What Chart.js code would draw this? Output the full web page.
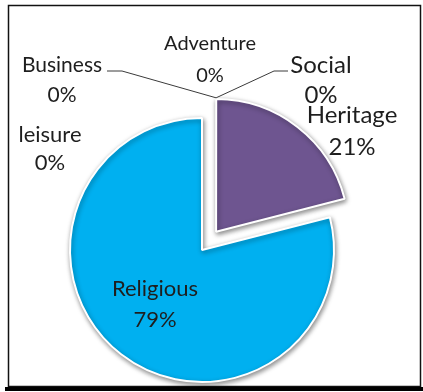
<!DOCTYPE html>
<html lang="en">
<head>
    <meta charset="UTF-8">
    <title>Tourism purpose</title>
    <script src="https://cdn.jsdelivr.net/npm/chart.js"></script>
    <style>
        body {
            margin: 0;
            background-color: #ffffff;
        }
        #wrap {
            position: relative;
            width: 423px;
            height: 392px;
        }
    </style>
</head>
<body>
    <div id="wrap"><canvas id="chart" width="423" height="392"></canvas></div>

    <script>
        const categories = ['Heritage', 'Religious', 'leisure', 'Business', 'Adventure', 'Social'];
        const shares = [21, 79, 0, 0, 0, 0];
        const sliceColors = ['#6e5590', '#00b0f0', '#c0504d', '#9bbb59', '#f79646', '#4bacc6'];
        const explode = [92, 0, 0, 0, 0, 0];

        // where each label block sits: centre x and baselines of its two lines
        const labelPlaces = {
            Heritage:  { x: 352, y: [123, 155], size: 24 },
            Religious: { x: 155, y: [296, 327], size: 22 },
            leisure:   { x: 50,  y: [142, 170], size: 22 },
            Business:  { x: 62,  y: [72, 102],  size: 21 },
            Adventure: { x: 210, y: [50, 82],   size: 20 },
            Social:    { x: 321, y: [73, 103],  size: 24 }
        };
        // leader lines for the empty slices, listed from the text end inwards
        const leaders = {
            Business: [[107, 71], [122, 71]],
            Social:   [[288, 71], [274, 71]]
        };

        const frame = {
            id: 'frame',
            beforeDraw(chart) {
                const ctx = chart.ctx;
                ctx.save();
                ctx.strokeStyle = '#111';
                ctx.lineWidth = 1.5;
                ctx.strokeRect(8.5, 5.5, 412, 381);
                ctx.fillStyle = '#000';
                ctx.fillRect(5, 387, 418, 4);
                ctx.restore();
            }
        };

        const softShadow = {
            id: 'softShadow',
            beforeDatasetsDraw(chart) {
                const ctx = chart.ctx;
                ctx.save();
                ctx.shadowColor = 'rgba(0,0,0,0.45)';
                ctx.shadowBlur = 5;
                ctx.shadowOffsetX = 1;
                ctx.shadowOffsetY = 2;
            },
            afterDatasetsDraw(chart) {
                chart.ctx.restore();
            }
        };

        const sliceLabels = {
            id: 'sliceLabels',
            afterDatasetsDraw(chart) {
                const ctx = chart.ctx;
                const arcs = chart.getDatasetMeta(0).data;
                const values = chart.data.datasets[0].data;
                const total = values.reduce((a, b) => a + b, 0);

                // the empty slices meet at the top corner of the exploded slice
                const first = arcs[0];
                const mid = (first.startAngle + first.endAngle) / 2;
                const shift = (first.options.offset || 0) / 4;
                const tipX = first.x + Math.cos(mid) * shift + Math.cos(first.startAngle) * first.outerRadius;
                const tipY = first.y + Math.sin(mid) * shift + Math.sin(first.startAngle) * first.outerRadius;

                ctx.save();
                ctx.strokeStyle = '#3a3a3a';
                ctx.lineWidth = 1;
                Object.keys(leaders).forEach(name => {
                    const pts = leaders[name];
                    ctx.beginPath();
                    ctx.moveTo(pts[0][0], pts[0][1]);
                    for (let i = 1; i < pts.length; i++) ctx.lineTo(pts[i][0], pts[i][1]);
                    ctx.lineTo(tipX, tipY - 2);
                    ctx.stroke();
                });

                ctx.fillStyle = '#1e1e1e';
                ctx.textAlign = 'center';
                ctx.textBaseline = 'alphabetic';
                chart.data.labels.forEach((name, i) => {
                    const p = labelPlaces[name];
                    const pct = Math.round(values[i] / total * 100) + '%';
                    ctx.font = p.size + 'px Lato';
                    ctx.fillText(name, p.x, p.y[0]);
                    ctx.fillText(pct, p.x, p.y[1]);
                });
                ctx.restore();
            }
        };

        new Chart(document.getElementById('chart'), {
            type: 'pie',
            data: {
                labels: categories,
                datasets: [{
                    data: shares,
                    backgroundColor: sliceColors,
                    borderColor: '#ffffff',
                    borderWidth: 2,
                    offset: explode,
                    hoverOffset: 0
                }]
            },
            options: {
                responsive: false,
                animation: false,
                radius: 132,
                layout: {
                    padding: { left: 60, right: 79, top: 120, bottom: 12 }
                },
                plugins: {
                    legend: { display: false },
                    tooltip: { enabled: false }
                },
                events: []
            },
            plugins: [frame, softShadow, sliceLabels]
        });
    </script>
</body>
</html>
